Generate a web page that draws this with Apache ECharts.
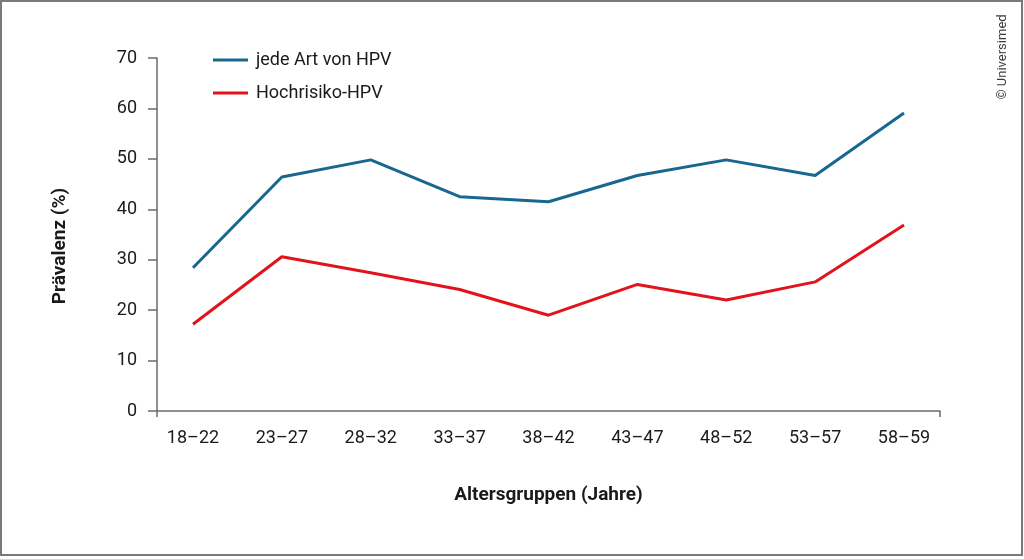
<!DOCTYPE html>
<html>
<head>
<meta charset="utf-8">
<script src="https://cdn.jsdelivr.net/npm/echarts@6/dist/echarts.min.js"></script>
<style>
  html, body { margin: 0; padding: 0; background: #fff; }
  #chart { width: 1024px; height: 559px; }
</style>
</head>
<body>
<div id="chart"></div>
<script>
// Altersgruppen und Prävalenzwerte
const ageGroups = ['18–22', '23–27', '28–32', '33–37', '38–42', '43–47', '48–52', '53–57', '58–59']
const anyHpv = [28.4, 46.4, 49.8, 42.5, 41.5, 46.7, 49.8, 46.7, 59.1]
const highRiskHpv = [17.2, 30.6, 27.4, 24.1, 19.0, 25.1, 22.0, 25.6, 36.9]
const yTicks = [0, 70, 10] // min, max, interval

const FONT = 'Roboto, "Liberation Sans", sans-serif'
const BLUE = '#17678f'
const RED = '#e1141c'
const AXIS = '#6b6b6b'

const chart = echarts.init(document.getElementById('chart'))

chart.setOption({
  backgroundColor: '#fff',
  animation: false,
  textStyle: { fontFamily: FONT },
  legend: {
    orient: 'vertical',
    left: 208,
    top: 45,
    itemGap: 13,
    itemWidth: 35,
    itemHeight: 3,
    icon: 'rect',
    textStyle: { fontSize: 18, color: '#1a1a1a', fontFamily: FONT, lineHeight: 20, padding: [0, 0, 0, 3] },
    data: ['jede Art von HPV', 'Hochrisiko-HPV']
  },
  grid: [
    // frame grid: only draws the axis lines
    { left: 157, right: 84, top: 58, bottom: 148 },
    // data grid
    { left: 193, right: 120, top: 58, bottom: 148 }
  ],
  xAxis: [
    {
      gridIndex: 0, type: 'value', min: 0, max: 1, interval: 1,
      axisLine: { show: true, lineStyle: { color: AXIS, width: 1.5 } },
      axisTick: { show: true, length: 6, lineStyle: { color: AXIS, width: 1.5 } },
      axisLabel: { show: false },
      splitLine: { show: false }
    },
    {
      gridIndex: 1, type: 'category', boundaryGap: false, data: ageGroups,
      axisLine: { show: false },
      axisTick: { show: false },
      axisLabel: { interval: 0, fontSize: 18, color: '#1a1a1a', margin: 18, fontFamily: FONT },
      name: 'Altersgruppen (Jahre)',
      nameLocation: 'middle',
      nameGap: 75,
      nameTextStyle: { fontSize: 19, fontWeight: 'bold', color: '#1a1a1a', fontFamily: FONT }
    }
  ],
  yAxis: [
    {
      gridIndex: 0, type: 'value', min: yTicks[0], max: yTicks[1], interval: yTicks[2],
      axisLine: { show: true, lineStyle: { color: AXIS, width: 1.5 } },
      axisTick: { show: true, length: 9, lineStyle: { color: AXIS, width: 1.5 } },
      axisLabel: { fontSize: 18, color: '#1a1a1a', margin: 20, fontFamily: FONT },
      splitLine: { show: false }
    },
    {
      gridIndex: 1, type: 'value', min: yTicks[0], max: yTicks[1], interval: yTicks[2],
      show: false
    }
  ],
  series: [
    {
      name: 'jede Art von HPV', type: 'line', xAxisIndex: 1, yAxisIndex: 1,
      data: anyHpv, symbol: 'none', color: BLUE,
      lineStyle: { color: BLUE, width: 3 }
    },
    {
      name: 'Hochrisiko-HPV', type: 'line', xAxisIndex: 1, yAxisIndex: 1,
      data: highRiskHpv, symbol: 'none', color: RED,
      lineStyle: { color: RED, width: 3 }
    }
  ],
  graphic: [
    {
      type: 'rect', silent: true,
      shape: { x: 1, y: 1, width: 1021, height: 554 },
      style: { fill: 'none', stroke: '#7a7a7a', lineWidth: 2 }
    },
    {
      type: 'text', x: 60, y: 246, rotation: Math.PI / 2,
      style: {
        text: 'Prävalenz (%)', fontSize: 19, fontWeight: 'bold', fill: '#1a1a1a',
        fontFamily: FONT, align: 'center', verticalAlign: 'middle'
      }
    },
    {
      type: 'text', x: 1003, y: 57, rotation: Math.PI / 2,
      style: {
        text: '© Universimed', fontSize: 13, fill: '#3a3a3a',
        fontFamily: FONT, align: 'center', verticalAlign: 'middle'
      }
    }
  ]
})
</script>
</body>
</html>
